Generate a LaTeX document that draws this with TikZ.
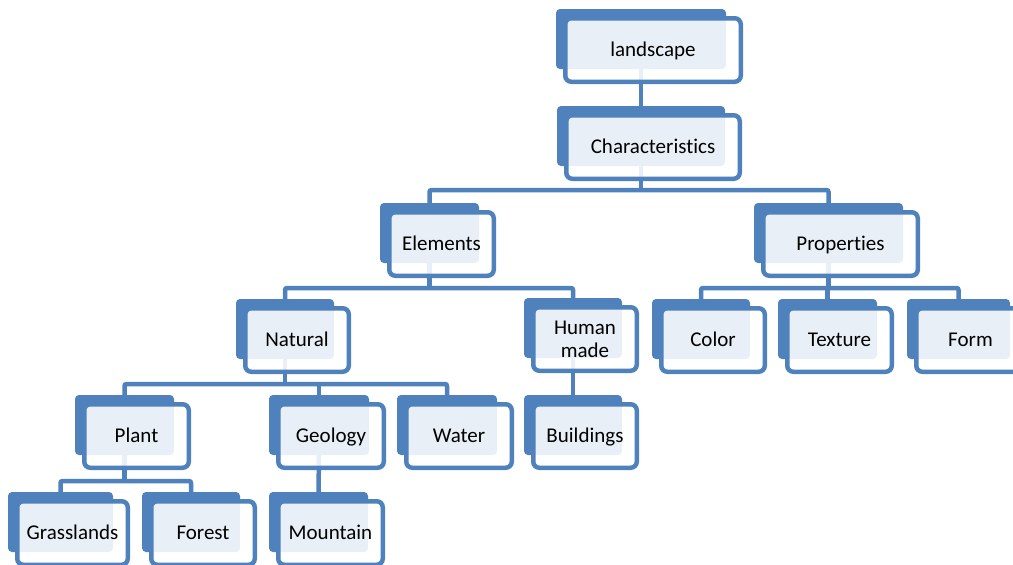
\documentclass[tikz,border=0pt]{standalone}
\usepackage{fontspec}
\setmainfont{Carlito}[Ligatures={NoCommon}]
\definecolor{accent}{RGB}{79,129,189}
\tikzset{
  backpanel/.style={draw=none, fill=accent, rounded corners=4pt, anchor=north west,
    inner sep=0pt, outer sep=0pt, minimum height=60pt},
  frontpanel/.style={draw=accent, line width=4.5pt, fill=white, fill opacity=0.88,
    text opacity=1, rounded corners=6pt, anchor=north west, inner sep=0pt, outer sep=0pt,
    minimum height=63.5pt, font=\fontsize{21}{23}\selectfont, align=center,
    text height=13.5pt, text depth=0pt},
  conn/.style={draw=accent, line width=4.5pt, rounded corners=2pt},
}
% back panel: name, x, y (top left), width
\newcommand\backcard[4]{%
  \node[backpanel, minimum width=#4pt] (#1-b) at (#2,#3) {};}
% front panel with the label: [extra options], name, x, y, width, text
\newcommand\frontcard[6][]{%
  \node[frontpanel, minimum width=#5pt+5.5pt, #1] (#2) at (#3+9.25,#4+9.25) {#6};}
\begin{document}
\begin{tikzpicture}[x=1pt, y=-1pt]
\clip (0,0) rectangle (1013,565);
\fill[white] (0,0) rectangle (1013,565);

% back panels
\backcard{landscape}{556}{9}{170}
\backcard{charac}{557}{106}{168}
\backcard{elements}{380}{203}{99}
\backcard{properties}{754}{203}{149}
\backcard{natural}{236}{299}{98}
\backcard{human}{524}{298}{98}
\backcard{color}{652}{299}{98}
\backcard{texture}{778}{299}{99}
\backcard{form}{907}{299}{103}
\backcard{plant}{75}{395}{99}
\backcard{geology}{269}{395}{100}
\backcard{water}{397}{395}{100}
\backcard{buildings}{524}{395}{98}
\backcard{grass}{8}{492}{105}
\backcard{forest}{142}{492}{98}
\backcard{mountain}{269}{492}{99}

% bus lines
\coordinate (busA) at (0,190);
\coordinate (busB) at (0,288);
\coordinate (busD) at (0,384);
\coordinate (busE) at (0,481);

% connectors
\draw[conn] (landscape-b.south) -- (charac-b.north);
\draw[conn] (charac-b.south) -- (charac-b.south |- busA);
\draw[conn] (elements-b.north) |- (properties-b.north |- busA) -- (properties-b.north);

\draw[conn] (elements-b.south) -- (elements-b.south |- busB);
\draw[conn] (natural-b.north) |- (human-b.north |- busB) -- (human-b.north);

\draw[conn] (properties-b.south) -- (properties-b.south |- busB);
\draw[conn] (color-b.north) |- (form-b.north |- busB) -- (form-b.north);
\draw[conn] (texture-b.north) -- (texture-b.north |- busB);

\draw[conn] (natural-b.south) -- (natural-b.south |- busD);
\draw[conn] (plant-b.north) |- (water-b.north |- busD) -- (water-b.north);
\draw[conn] (geology-b.north) -- (geology-b.north |- busD);

\draw[conn] (human-b.south) -- (buildings-b.north);

\draw[conn] (plant-b.south) -- (plant-b.south |- busE);
\draw[conn] (grass-b.north) |- (forest-b.north |- busE) -- (forest-b.north);

\draw[conn] (geology-b.south) -- (mountain-b.north);

% front panels with labels
\frontcard{landscape}{556}{9}{170}{landscape}
\frontcard{charac}{557}{106}{168}{Characteristics}
\frontcard{elements}{380}{203}{99}{Elements}
\frontcard{properties}{754}{203}{149}{Properties}
\frontcard{natural}{236}{299}{98}{Natural}
\frontcard[text height=, text depth=]{human}{524}{298}{98}{Human\\made}
\frontcard{color}{652}{299}{98}{Color}
\frontcard{texture}{778}{299}{99}{Texture}
\frontcard{form}{907}{299}{103}{Form}
\frontcard{plant}{75}{395}{99}{Plant}
\frontcard{geology}{269}{395}{100}{Geology}
\frontcard{water}{397}{395}{100}{Water}
\frontcard{buildings}{524}{395}{98}{Buildings}
\frontcard{grass}{8}{492}{105}{Grasslands}
\frontcard{forest}{142}{492}{98}{Forest}
\frontcard{mountain}{269}{492}{99}{Mountain}
\end{tikzpicture}
\end{document}
